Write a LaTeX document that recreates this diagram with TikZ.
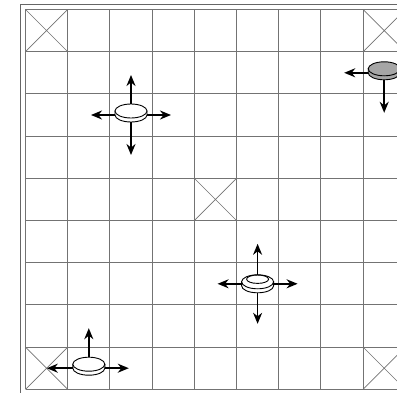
\documentclass[tikz,border=0pt]{standalone}
\usetikzlibrary{arrows.meta,calc}
\tikzset{
  gridline/.style={draw=black!55, line width=0.9pt},
  crossline/.style={draw=black!55, line width=0.7pt},
  frame/.style={draw=black!60, line width=1pt},
  piece/.style={inner sep=0pt, minimum width=32pt, minimum height=18pt},
  pieceline/.style={draw=black, line width=0.9pt},
  move/.style={-{Stealth[length=11pt,width=9pt,inset=3.5pt]}, line width=1.5pt},
}
\newcommand\boardpiece[4]{%
  \node[piece] (#1) at ($(#2)+(0,#4+2pt)$) {};
  \filldraw[pieceline, fill=#3] ($(#1.center)+(-16pt,2pt)$) -- ++(0,-4pt)
     arc[start angle=180, end angle=360, x radius=16pt, y radius=7pt] -- ++(0,4pt) -- cycle;
  \filldraw[pieceline, fill=#3] ($(#1.center)+(0,2pt)$) ellipse[x radius=16pt, y radius=7pt];
}
\begin{document}
\begin{tikzpicture}[x=1pt,y=1pt]
\useasboundingbox (0,0) rectangle (397,392);
\clip (0,0) rectangle (397,392);
\draw[frame] (20.5,-10) rectangle (430,387.5);
\begin{scope}[shift={(25.5,2.7)}, x=42.2pt, y=42.2pt]
  \foreach \k in {0,...,9} {
    \draw[gridline] (\k,0) -- (\k,9);
    \draw[gridline] (0,\k) -- (9,\k);
  }
  \foreach \i/\j in {0/8, 8/8, 4/4, 0/0, 8/0}
    \draw[crossline] (\i,\j) -- ++(1,1) (\i+1,\j) -- ++(-1,1);

  % gray piece, top right
  \boardpiece{p1}{8.5,7.5}{black!35}{0pt}
  \coordinate (p1left) at ($(8.5,7.5)+(-40pt,0)$);
  \coordinate (p1down) at ($(8.5,7.5)+(0,-40pt)$);
  \draw[move] (p1left -| p1.west) -- (p1left);
  \draw[move] (p1.south) -- (p1down);

  % white piece, upper left
  \boardpiece{p2}{2.5,6.5}{white}{0pt}
  \coordinate (p2left) at ($(2.5,6.5)+(-40pt,0)$);
  \coordinate (p2right) at ($(2.5,6.5)+(40pt,0)$);
  \coordinate (p2up) at ($(2.5,6.5)+(0,40pt)$);
  \coordinate (p2down) at ($(2.5,6.5)+(0,-40pt)$);
  \draw[move] (p2left -| p2.west) -- (p2left);
  \draw[move] (p2right -| p2.east) -- (p2right);
  \draw[move] (p2.north) -- (p2up);
  \draw[move] (p2.south) -- (p2down);

  % crowned piece
  \boardpiece{p3}{5.5,2.5}{white}{-2pt}
  \draw[pieceline] ($(p3.center)+(0,4.6pt)$) ellipse[x radius=11pt, y radius=4.2pt];
  \coordinate (p3left) at ($(5.5,2.5)+(-40pt,0)$);
  \coordinate (p3right) at ($(5.5,2.5)+(40pt,0)$);
  \coordinate (p3up) at ($(5.5,2.5)+(0,40pt)$);
  \coordinate (p3down) at ($(5.5,2.5)+(0,-40pt)$);
  \draw[move] (p3left -| p3.west) -- (p3left);
  \draw[move] (p3right -| p3.east) -- (p3right);
  \draw[move] (p3.north) -- (p3up);
  \draw[move] (p3.south) -- (p3down);

  % white piece, bottom
  \boardpiece{p4}{1.5,0.5}{white}{0pt}
  \coordinate (p4left) at ($(1.5,0.5)+(-42pt,0)$);
  \coordinate (p4right) at ($(1.5,0.5)+(40pt,0)$);
  \coordinate (p4up) at ($(1.5,0.5)+(0,40pt)$);
  \draw[move] (p4left -| p4.west) -- (p4left);
  \draw[move] (p4right -| p4.east) -- (p4right);
  \draw[move] (p4.north) -- (p4up);
\end{scope}
\end{tikzpicture}
\end{document}
